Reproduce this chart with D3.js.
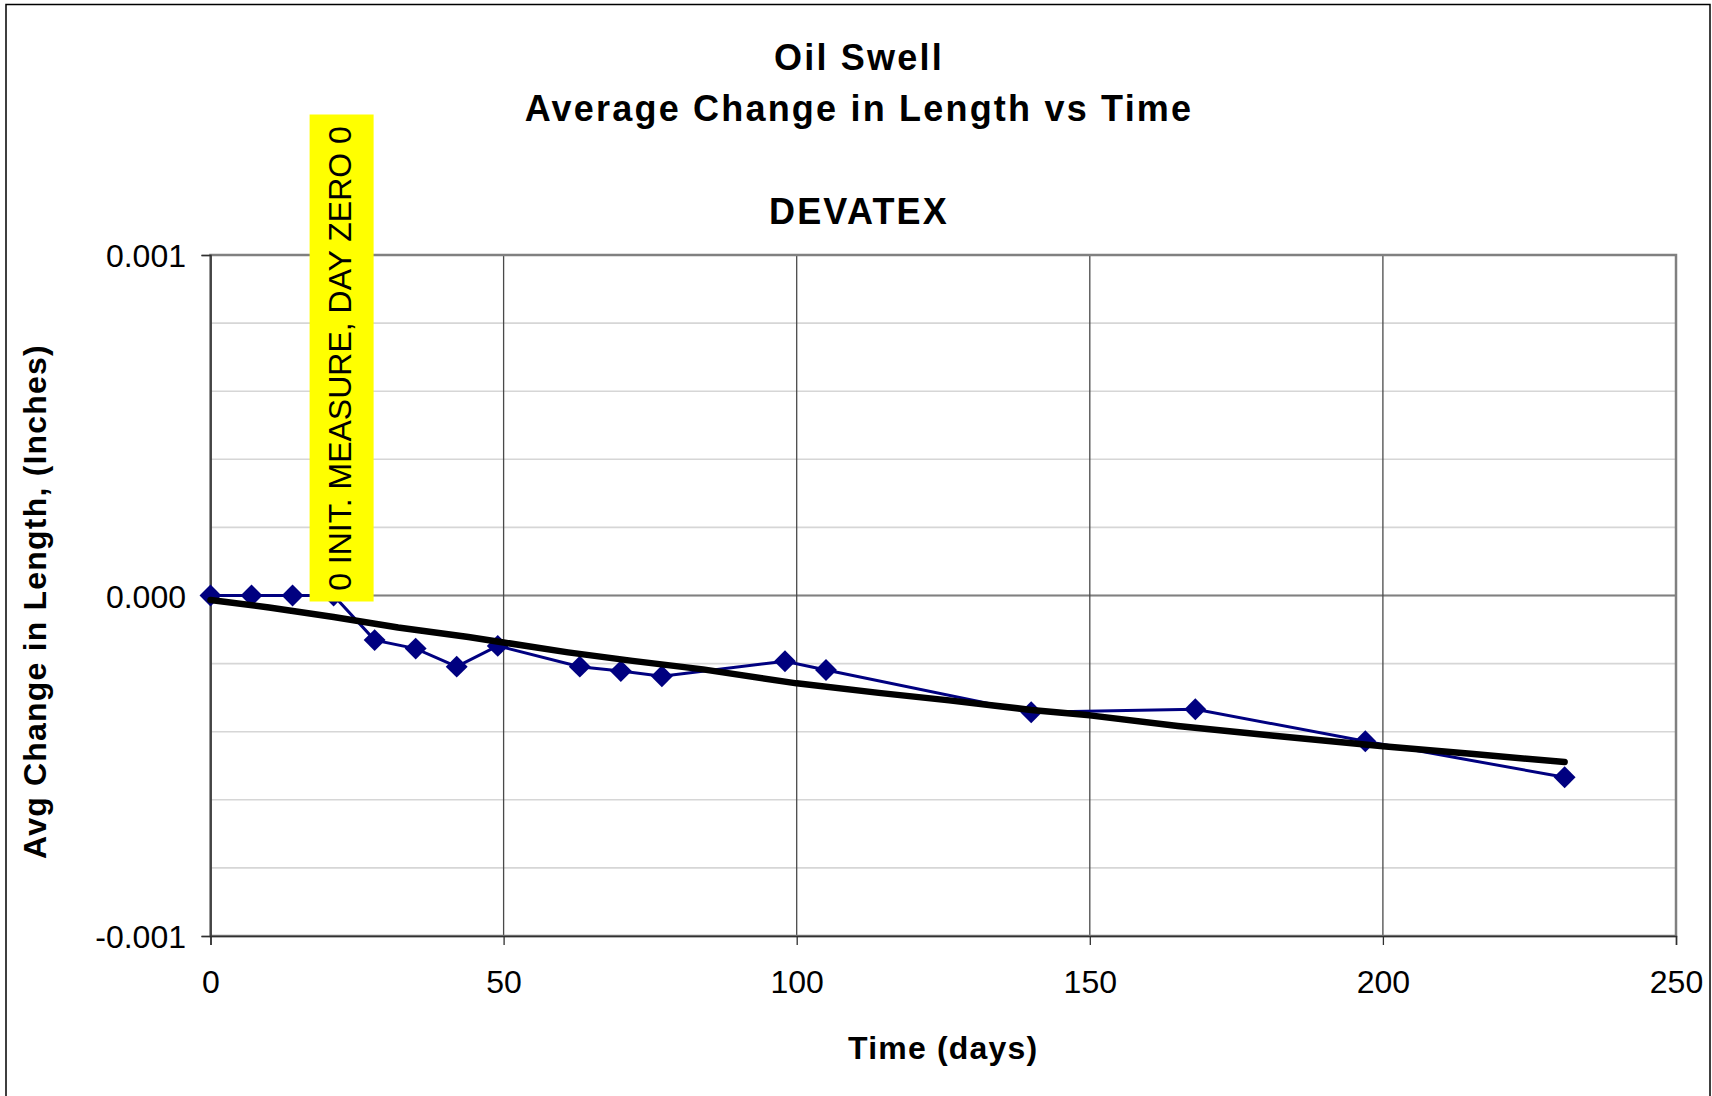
<!DOCTYPE html>
<html lang="en">
<head>
    <meta charset="UTF-8">
    <title>Oil Swell - DEVATEX</title>
    <script src="https://d3js.org/d3.v7.min.js"></script>
    <style>
        body{
            margin: 0;
            background: white;
        }
        text{
            font-family: Arial, "Liberation Sans", sans-serif;
            fill: black;
        }
        .title{
            font-size: 36px;
            font-weight: bold;
            letter-spacing: 2.2px;
            text-anchor: middle;
        }
        .axisTitle{
            font-size: 32px;
            font-weight: bold;
            letter-spacing: 1.2px;
            text-anchor: middle;
        }
        .tick text{
            font-size: 32px;
        }
    </style>
</head>
<body>
    <script>
        // series: average change in length (inches) by day
        var days = [0, 7, 14, 21, 28, 35, 42, 49, 63, 70, 77, 98, 105, 140, 168, 197, 231];
        var avgChange = [0, 0, 0, 0, -0.000131, -0.000156, -0.000209, -0.000148, -0.000209,
                         -0.000222, -0.000237, -0.000193, -0.000219, -0.000343, -0.000334,
                         -0.000428, -0.000534];

        // black trend line
        var trendDays = [0, 10, 21, 32, 44, 50, 61, 72, 84, 100, 114, 126, 140, 150, 165, 181, 200, 215, 231];
        var trendChange = [-0.000013, -0.000035, -0.000063, -0.000094, -0.000122, -0.000138,
                           -0.000167, -0.000192, -0.000217, -0.000258, -0.000286, -0.000308,
                           -0.000336, -0.000352, -0.000383, -0.000411, -0.000443, -0.000465, -0.000489];

        var xTicks = [0, 50, 100, 150, 200, 250];
        var yTicks = [-0.001, 0, 0.001];
        var yTickLabels = ["-0.001", "0.000", "0.001"];

        var titles = ["Oil Swell", "Average Change in Length vs Time", "DEVATEX"];
        var labelText = "0  INIT. MEASURE, DAY ZERO  0";
        var labelIndex = 3;

        var W = 1712, H = 1096;
        var svg = d3.select("body").append("svg")
                    .attr("width", W).attr("height", H);

        // outer chart border
        svg.append("rect")
           .attr("x", 6).attr("y", 4.5)
           .attr("width", 1704).attr("height", 1110)
           .attr("fill", "white").attr("stroke", "black").attr("stroke-width", 1.5);

        var x = d3.scaleLinear().domain([0, 250]).range([210.5, 1676]);
        var y = d3.scaleLinear().domain([-0.001, 0.001]).range([936, 255]);

        // titles
        var titleY = [70, 121, 224];
        svg.selectAll(".title").data(titles).enter().append("text")
           .attr("class", "title")
           .attr("x", 859)
           .attr("y", function(d, i){ return titleY[i]; })
           .text(function(d){ return d; });

        var grid = svg.append("g");
        // minor horizontal grid
        grid.selectAll(".minor").data(y.ticks(10)).enter().append("line")
            .attr("x1", x(0)).attr("x2", x(250))
            .attr("y1", function(d){ return y(d); })
            .attr("y2", function(d){ return y(d); })
            .attr("stroke", "#d6d6d6").attr("stroke-width", 1.6);
        // major horizontal grid
        grid.selectAll(".major").data(yTicks).enter().append("line")
            .attr("x1", x(0)).attr("x2", x(250))
            .attr("y1", function(d){ return y(d); })
            .attr("y2", function(d){ return y(d); })
            .attr("stroke", "#808080").attr("stroke-width", 2);
        // vertical grid
        grid.selectAll(".vgrid").data(xTicks).enter().append("line")
            .attr("x1", function(d){ return x(d); })
            .attr("x2", function(d){ return x(d); })
            .attr("y1", y(0.001)).attr("y2", y(-0.001))
            .attr("stroke", "#4a4a4a").attr("stroke-width", 1.3);

        // plot area border
        svg.append("rect")
           .attr("x", x(0)).attr("y", y(0.001))
           .attr("width", x(250) - x(0)).attr("height", y(-0.001) - y(0.001))
           .attr("fill", "none").attr("stroke", "#808080").attr("stroke-width", 2.5);

        // axes
        var yAxis = d3.axisLeft(y).tickValues(yTicks)
                      .tickFormat(function(d, i){ return yTickLabels[i]; })
                      .tickSize(9).tickPadding(15.5);
        var xAxis = d3.axisBottom(x).tickValues(xTicks)
                      .tickSize(9).tickPadding(25);

        var gy = svg.append("g").attr("transform", "translate(" + x(0) + ",0)").call(yAxis);
        var gx = svg.append("g").attr("transform", "translate(0," + y(-0.001) + ")").call(xAxis);
        gy.select(".domain").attr("stroke", "#303030").attr("stroke-width", 1.5);
        gx.select(".domain").attr("stroke", "#303030").attr("stroke-width", 1.5);
        gy.selectAll(".tick line").attr("stroke", "#303030").attr("stroke-width", 1.3);
        gx.selectAll(".tick line").attr("stroke", "#303030").attr("stroke-width", 1.3);
        gy.selectAll(".tick text").attr("dy", "0.36em").attr("font-family", null).attr("font-size", null);
        gx.selectAll(".tick text").attr("font-family", null).attr("font-size", null);

        // axis titles
        svg.append("text").attr("class", "axisTitle")
           .attr("transform", "translate(46," + (y(0) + 6) + ") rotate(-90)")
           .text("Avg Change in Length, (Inches)");
        svg.append("text").attr("class", "axisTitle")
           .attr("x", (x(0) + x(250)) / 2).attr("y", 1059)
           .text("Time (days)");

        // data series
        var points = days.map(function(d, i){ return {day: d, value: avgChange[i]}; });
        var line = d3.line()
                     .x(function(d){ return x(d.day); })
                     .y(function(d){ return y(d.value); });

        svg.append("path").datum(points)
           .attr("d", line)
           .attr("fill", "none").attr("stroke", "#000080").attr("stroke-width", 3);

        var diamond = d3.symbol().type(d3.symbolSquare).size(240);
        svg.append("g").selectAll("path").data(points).enter().append("path")
           .attr("d", diamond)
           .attr("transform", function(d){ return "translate(" + x(d.day) + "," + y(d.value) + ") rotate(45)"; })
           .attr("fill", "#000080");

        // trend line
        var trend = trendDays.map(function(d, i){ return {day: d, value: trendChange[i]}; });
        svg.append("path").datum(trend)
           .attr("d", line)
           .attr("fill", "none").attr("stroke", "black").attr("stroke-width", 6.5)
           .attr("stroke-linejoin", "round").attr("stroke-linecap", "round");

        // yellow data label on the day-zero point
        var lp = points[labelIndex];
        var lx = x(lp.day), ly = y(lp.value);
        svg.append("rect")
           .attr("x", lx - 24).attr("y", ly - 481)
           .attr("width", 64).attr("height", 487)
           .attr("fill", "#ffff00");
        svg.append("text")
           .attr("transform", "translate(" + (lx + 17) + "," + (ly - 237) + ") rotate(-90)")
           .attr("text-anchor", "middle")
           .attr("font-size", 32)
           .text(labelText);
    </script>
</body>
</html>
